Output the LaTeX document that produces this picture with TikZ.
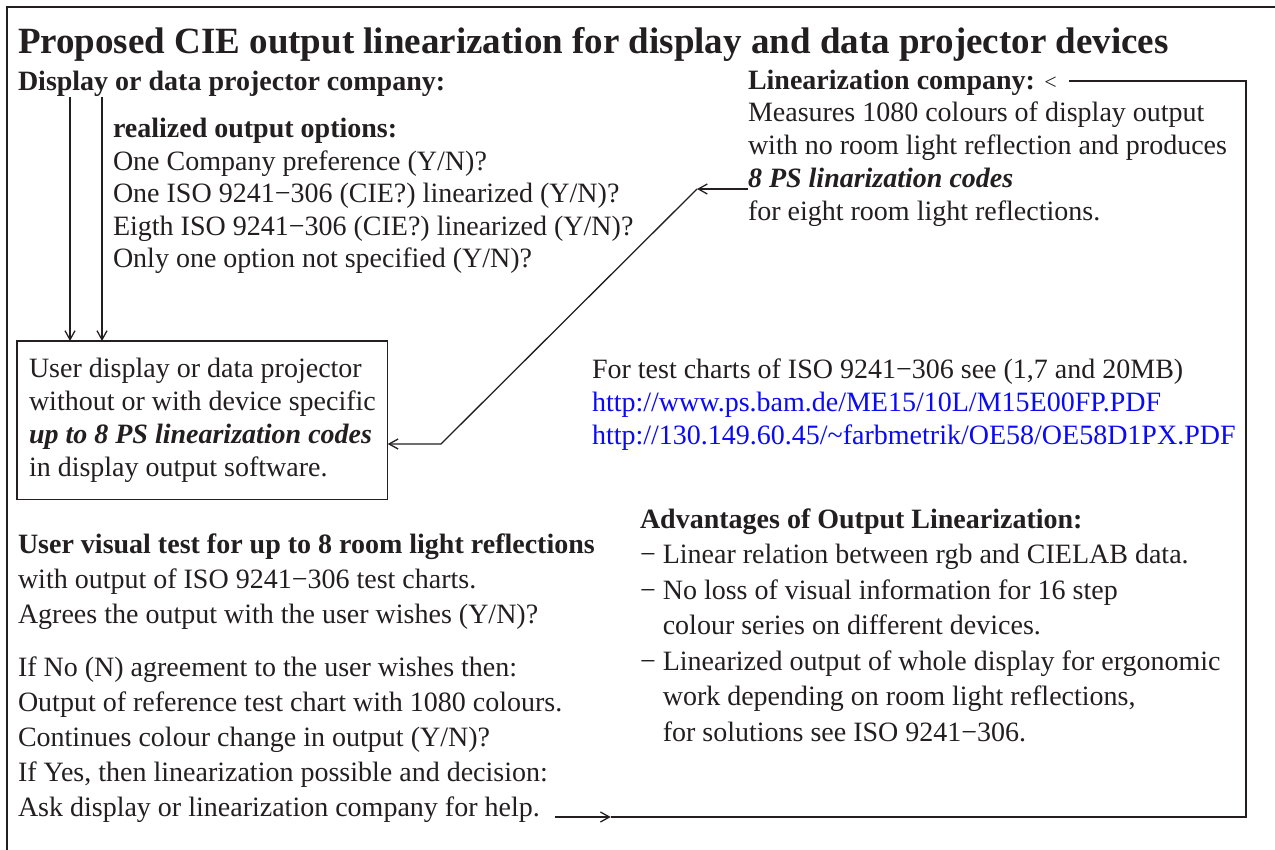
\documentclass[tikz,border=0pt]{standalone}
\usepackage{fontspec}
\setmainfont{Liberation Serif}
\usetikzlibrary{arrows.meta}
\definecolor{ink}{HTML}{231F20}
\definecolor{linkblue}{RGB}{10,10,245}
\begin{document}
\begin{tikzpicture}[x=1pt,y=-1pt,
  every node/.style={inner sep=0pt, outer sep=0pt, text=ink},
  body/.style={anchor=base west, align=left, font=\fontsize{28}{33}\selectfont},
  bodywide/.style={anchor=base west, align=left, font=\fontsize{28}{35}\selectfont},
  conn/.style={draw=ink, line width=1.3pt},
  tip/.style={-{Straight Barb[length=9pt,width=10pt,line width=1.3pt]}},
  framebox/.style={draw=ink, line width=1.3pt},
]
\useasboundingbox (0,0) rectangle (1275,850);
% outer frame (only left and top visible)
\draw[draw=ink, line width=2pt] (7,860) -- (7,7) -- (1285,7);

% title
\node[anchor=base west, font=\fontsize{37}{40}\selectfont\bfseries] (title) at (18,54)
  {Proposed CIE output linearization for display and data projector devices};

% left top (multi-line nodes are anchored at the baseline of their last line)
\node[body] (disp) at (18,91) {\textbf{Display or data projector company:}};
\node[body, font=\fontsize{28}{32.5}\selectfont] (opts) at (113,268)
  {\textbf{realized output options:}\\
   One Company preference (Y/N)?\\
   One ISO 9241−306 (CIE?) linearized (Y/N)?\\
   Eigth ISO 9241−306 (CIE?) linearized (Y/N)?\\
   Only one option not specified (Y/N)?};

% user box
\node[body, anchor=north west, framebox, inner xsep=12pt, inner ysep=17pt] (box) at (17,341)
  {User display or data projector\\
   without or with device specific\\
   \textbf{\textit{up to 8 PS linearization codes}}\\
   in display output software.};

% top right
\node[body] (linhead) at (748,90) {\textbf{Linearization company:} {\fontsize{22}{24}\selectfont <}};
\node[body] (linbody) at (748,155)
  {Measures 1080 colours of display output\\
   with no room light reflection and produces};
\node[body] (codes) at (748,188) {\textbf{\textit{8 PS linarization codes}}};
\node[body] (lineight) at (748,221) {for eight room light reflections.};

% test charts
\node[body] (charts) at (592,444)
  {For test charts of ISO 9241−306 see (1,7 and 20MB)\\
   \textcolor{linkblue}{http://www.ps.bam.de/ME15/10L/M15E00FP.PDF}\\
   \textcolor{linkblue}{http://130.149.60.45/\string~farbmetrik/OE58/OE58D1PX.PDF}};

% advantages
\node[anchor=base west, align=left, font=\fontsize{28}{35.5}\selectfont] (adv) at (640,741)
  {\textbf{Advantages of Output Linearization:}\\
   − Linear relation between rgb and CIELAB data.\\
   − No loss of visual information for 16 step\\
   \hphantom{−\ }colour series on different devices.\\
   − Linearized output of whole display for ergonomic\\
   \hphantom{−\ }work depending on room light reflections,\\
   \hphantom{−\ }for solutions see ISO 9241−306.};

% user visual test
\node[bodywide] (visual) at (18,623)
  {\textbf{User visual test for up to 8 room light reflections}\\
   with output of ISO 9241−306 test charts.\\
   Agrees the output with the user wishes (Y/N)?};
\node[bodywide] (ifno) at (18,781)
  {If No (N) agreement to the user wishes then:\\
   Output of reference test chart with 1080 colours.\\
   Continues colour change in output (Y/N)?\\
   If Yes, then linearization possible and decision:};
\node[body] (ask) at (18,816) {Ask display or linearization company for help.};

% connectors
\coordinate (rx) at (1246,0);
\coordinate (d1) at (70,97);
\coordinate (d2) at (102,97);
\draw[conn, tip] (d1) -- (d1 |- box.north);
\draw[conn, tip] (d2) -- (d2 |- box.north);

\draw[conn, tip] ([xshift=15pt,yshift=-1pt]ask.base east) -- ++(56,0) coordinate (mid);
\draw[conn] (mid) -- (mid -| rx) |- ([xshift=12pt,yshift=9pt]linhead.base east);

\coordinate (bend1) at (697,189);
\coordinate (bend2) at (441,444);
\draw[conn, tip] ([yshift=-1pt]codes.base west) -- (bend1);
\draw[conn, tip] (bend1) -- (bend2) -- (bend2 -| box.east);
\end{tikzpicture}
\end{document}
